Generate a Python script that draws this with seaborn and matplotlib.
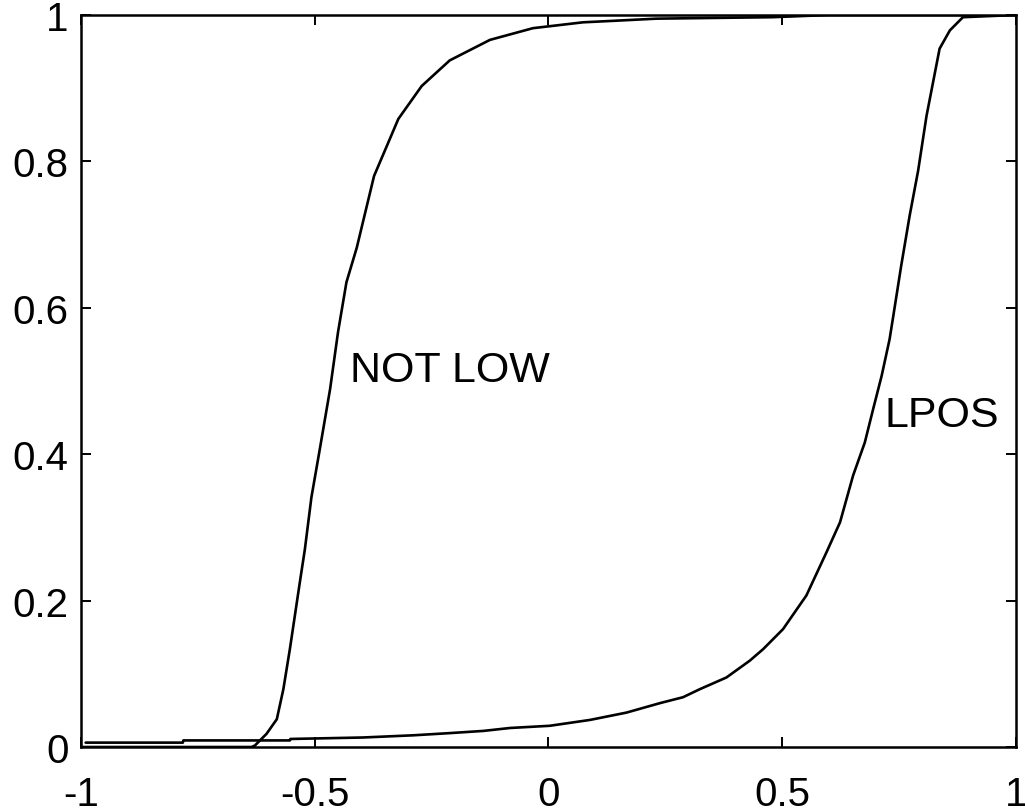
"""
Two cumulative curves (NOT LOW and LPOS) on a boxed axis, redrawn with seaborn.
"""

import pandas as pd
import seaborn as sns
import matplotlib
matplotlib.use("Agg")
import matplotlib.pyplot as plt

not_low_x = [-1.0, -0.70, -0.635, -0.628, -0.603, -0.581, -0.567, -0.553,
             -0.532, -0.521, -0.507, -0.489, -0.467, -0.450, -0.432, -0.410,
             -0.373, -0.321, -0.271, -0.211, -0.125, -0.033, 0.074, 0.138,
             0.231, 0.48, 0.60, 1.0]
not_low_y = [0.0, 0.0, 0.0, 0.002, 0.018, 0.038, 0.079, 0.134,
             0.224, 0.270, 0.341, 0.407, 0.489, 0.567, 0.635, 0.682,
             0.780, 0.858, 0.903, 0.938, 0.966, 0.982, 0.990, 0.992,
             0.995, 0.997, 1.0, 1.0]

lpos_x = [-0.99, -0.782, -0.781, -0.553, -0.552, -0.397, -0.289, -0.211,
          -0.139, -0.082, 0.003, 0.089, 0.167, 0.239, 0.288, 0.324,
          0.381, 0.431, 0.460, 0.502, 0.552, 0.595, 0.624, 0.652,
          0.677, 0.695, 0.713, 0.730, 0.738, 0.755, 0.773, 0.791,
          0.809, 0.830, 0.837, 0.859, 0.887, 1.0]
lpos_y = [0.006, 0.006, 0.009, 0.009, 0.011, 0.013, 0.016, 0.019,
          0.022, 0.026, 0.029, 0.037, 0.047, 0.060, 0.068, 0.079,
          0.095, 0.118, 0.134, 0.161, 0.207, 0.266, 0.307, 0.371,
          0.416, 0.462, 0.507, 0.557, 0.589, 0.658, 0.726, 0.787,
          0.862, 0.931, 0.954, 0.979, 0.997, 1.0]

x_ticks = [-1, -0.5, 0, 0.5, 1]
x_tick_labels = ["-1", "-0.5", "0", "0.5", "1"]
y_ticks = [0, 0.2, 0.4, 0.6, 0.8, 1]
y_tick_labels = ["0", "0.2", "0.4", "0.6", "0.8", "1"]

# --------------------------------- styling -----------------------------------
sns.set_style("ticks")
plt.rcParams["font.family"] = ["Liberation Sans", "DejaVu Sans"]
plt.rcParams["text.color"] = "black"

fig = plt.figure(figsize=(10.25, 8.12), dpi=100)
ax = fig.add_axes([0.079, 0.0788, 0.912, 0.9015])

# long form frame, one curve per label
curves_df = pd.concat([
    pd.DataFrame({"x": not_low_x, "y": not_low_y, "curve": "NOT LOW"}),
    pd.DataFrame({"x": lpos_x, "y": lpos_y, "curve": "LPOS"}),
])

sns.lineplot(data=curves_df, x="x", y="y", units="curve", estimator=None,
             color="black", linewidth=1.9, legend=False, ax=ax)

ax.text(-0.425, 0.50, "NOT LOW", fontsize=31, color="black",
        ha="left", va="baseline")
ax.text(0.72, 0.439, "LPOS", fontsize=31, color="black",
        ha="left", va="baseline")

ax.set_xlim(-1, 1)
ax.set_ylim(0, 1)
ax.set_xticks(x_ticks)
ax.set_xticklabels(x_tick_labels)
ax.set_yticks(y_ticks)
ax.set_yticklabels(y_tick_labels)
ax.set_xlabel("")
ax.set_ylabel("")

for spine in ax.spines.values():
    spine.set_visible(True)
    spine.set_linewidth(1.8)
    spine.set_color("black")

ax.tick_params(direction="in", length=7, width=1.4, top=True, right=True,
               labelsize=29, colors="black")
ax.tick_params(axis="x", pad=20)
ax.tick_params(axis="y", pad=9)

plt.savefig("out.png", dpi=100)
